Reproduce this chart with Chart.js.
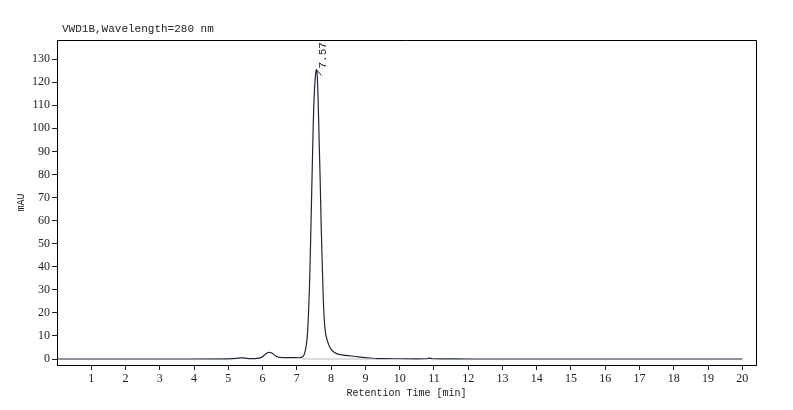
<!DOCTYPE html>
<html>
<head>
<meta charset="utf-8">
<script src="https://cdn.jsdelivr.net/npm/chart.js@4"></script>
<style>
  html, body { margin: 0; padding: 0; background: #fff; }
  #wrap { width: 793px; height: 410px; }
</style>
</head>
<body>
<div id="wrap"><canvas id="chrom"></canvas></div>
<script>
// signal trace (min, mAU)
const times = [0, 1, 2, 3, 4, 5, 5.25, 5.35, 5.42, 5.5, 5.65, 5.85, 5.95, 6.03, 6.1, 6.16, 6.2, 6.25, 6.32, 6.4, 6.5, 6.7, 6.9, 7.05,
  7.1, 7.16, 7.2, 7.24, 7.28, 7.31, 7.34, 7.37, 7.4, 7.43, 7.46, 7.49, 7.52, 7.55, 7.57, 7.59, 7.62, 7.65, 7.68, 7.71, 7.74, 7.77,
  7.8, 7.84, 7.89, 7.95, 8.02, 8.1, 8.2, 8.35, 8.5, 8.65, 8.8, 9.0, 9.2, 9.5, 10, 10.5, 10.8, 10.87, 10.95, 11.3, 12, 13, 14, 15, 16, 17, 18, 19, 20];
const signal = [0, 0, 0, 0, 0, 0.05, 0.25, 0.45, 0.5, 0.35, 0.15, 0.25, 0.6, 1.4, 2.3, 2.8, 2.9, 2.7, 2.1, 1.2, 0.7, 0.6, 0.6, 0.55,
  0.6, 0.9, 1.5, 3.2, 6.5, 11, 20, 32, 50, 70, 90, 108, 118, 124, 125.5, 124, 113, 95, 78, 58, 42, 27,
  17, 11, 8, 5.5, 3.8, 2.8, 2.1, 1.7, 1.5, 1.2, 0.9, 0.6, 0.3, 0.15, 0.1, 0.08, 0.12, 0.4, 0.12, 0.05, 0, 0, 0, 0, 0, 0, 0, 0, 0];

// integration baseline under the main peak
const baseTimes = [7.15, 9.3];
const baseValues = [0, 0];

// peak annotation
const peakTimes = [7.57];
const peakHeights = [125.5];
const peakLabels = ['7.57'];

const yTicks = [0, 10, 20, 30, 40, 50, 60, 70, 80, 90, 100, 110, 120, 130];
const xTicks = [1, 2, 3, 4, 5, 6, 7, 8, 9, 10, 11, 12, 13, 14, 15, 16, 17, 18, 19, 20];

const signalTitle = 'VWD1B,Wavelength=280 nm';

const decor = {
  id: 'decor',
  afterDraw(chart) {
    const ctx = chart.ctx;
    const a = chart.chartArea;
    const xs = chart.scales.x, ys = chart.scales.y;
    ctx.save();
    // frame top/right
    ctx.strokeStyle = '#000';
    ctx.lineWidth = 1;
    ctx.beginPath();
    ctx.moveTo(a.left, a.top + 0.5);
    ctx.lineTo(a.right + 0.5, a.top + 0.5);
    ctx.lineTo(a.right + 0.5, a.bottom);
    ctx.stroke();

    // signal name
    ctx.fillStyle = '#222';
    ctx.font = '11px "Liberation Mono"';
    ctx.textBaseline = 'alphabetic';
    ctx.fillText(signalTitle, 62, 32);

    // peak labels
    peakTimes.forEach((t, i) => {
      const px = xs.getPixelForValue(t);
      const py = ys.getPixelForValue(peakHeights[i]);
      ctx.strokeStyle = '#1c2838';
      ctx.beginPath();
      ctx.moveTo(px, py);
      ctx.lineTo(px + 5, py + 6);
      ctx.stroke();
      ctx.save();
      ctx.translate(px + 7, py - 1);
      ctx.rotate(-Math.PI / 2);
      ctx.font = '11px "Liberation Mono"';
      ctx.textAlign = 'left';
      ctx.textBaseline = 'middle';
      ctx.fillStyle = '#222';
      ctx.fillText(peakLabels[i], 0, 0);
      ctx.restore();
    });
    ctx.restore();
  }
};

new Chart(document.getElementById('chrom'), {
  type: 'line',
  data: {
    datasets: [
      {
        data: baseTimes.map((t, i) => ({ x: t, y: baseValues[i] })),
        borderColor: '#b8b8b8',
        borderWidth: 1,
        pointRadius: 0
      },
      {
        data: times.map((t, i) => ({ x: t, y: signal[i] })),
        borderColor: '#1c2838',
        borderWidth: 1.2,
        pointRadius: 0,
        cubicInterpolationMode: 'monotone'
      }
    ]
  },
  options: {
    responsive: true,
    maintainAspectRatio: false,
    animation: false,
    layout: { padding: { left: 0, right: 37, top: 40, bottom: 0 } },
    plugins: { legend: { display: false }, tooltip: { enabled: false } },
    scales: {
      x: {
        type: 'linear',
        min: 0,
        max: 20.4,
        afterBuildTicks: s => { s.ticks = xTicks.map(v => ({ value: v })); },
        afterFit: s => { s.height = 45; },
        grid: { drawOnChartArea: false, drawTicks: true, tickLength: 5, color: '#222' },
        border: { display: true, color: '#000', width: 1 },
        ticks: {
          padding: 2,
          maxRotation: 0,
          autoSkip: false,
          color: '#222',
          font: { family: 'Liberation Serif', size: 12 }
        },
        title: {
          display: true,
          text: 'Retention Time [min]',
          color: '#222',
          font: { family: 'Liberation Mono', size: 10 },
          padding: { top: 0, bottom: 11 }
        }
      },
      y: {
        type: 'linear',
        min: -2.6,
        max: 138.3,
        afterBuildTicks: s => { s.ticks = yTicks.map(v => ({ value: v })); },
        afterFit: s => { s.width = 57; },
        grid: { drawOnChartArea: false, drawTicks: true, tickLength: 5, color: '#222' },
        border: { display: true, color: '#000', width: 1 },
        ticks: {
          padding: 2,
          autoSkip: false,
          color: '#222',
          font: { family: 'Liberation Serif', size: 12 }
        },
        title: {
          display: true,
          text: 'mAU',
          color: '#222',
          font: { family: 'Liberation Mono', size: 10 },
          padding: { top: 15, bottom: 0 }
        }
      }
    }
  },
  plugins: [decor]
});
</script>
</body>
</html>
